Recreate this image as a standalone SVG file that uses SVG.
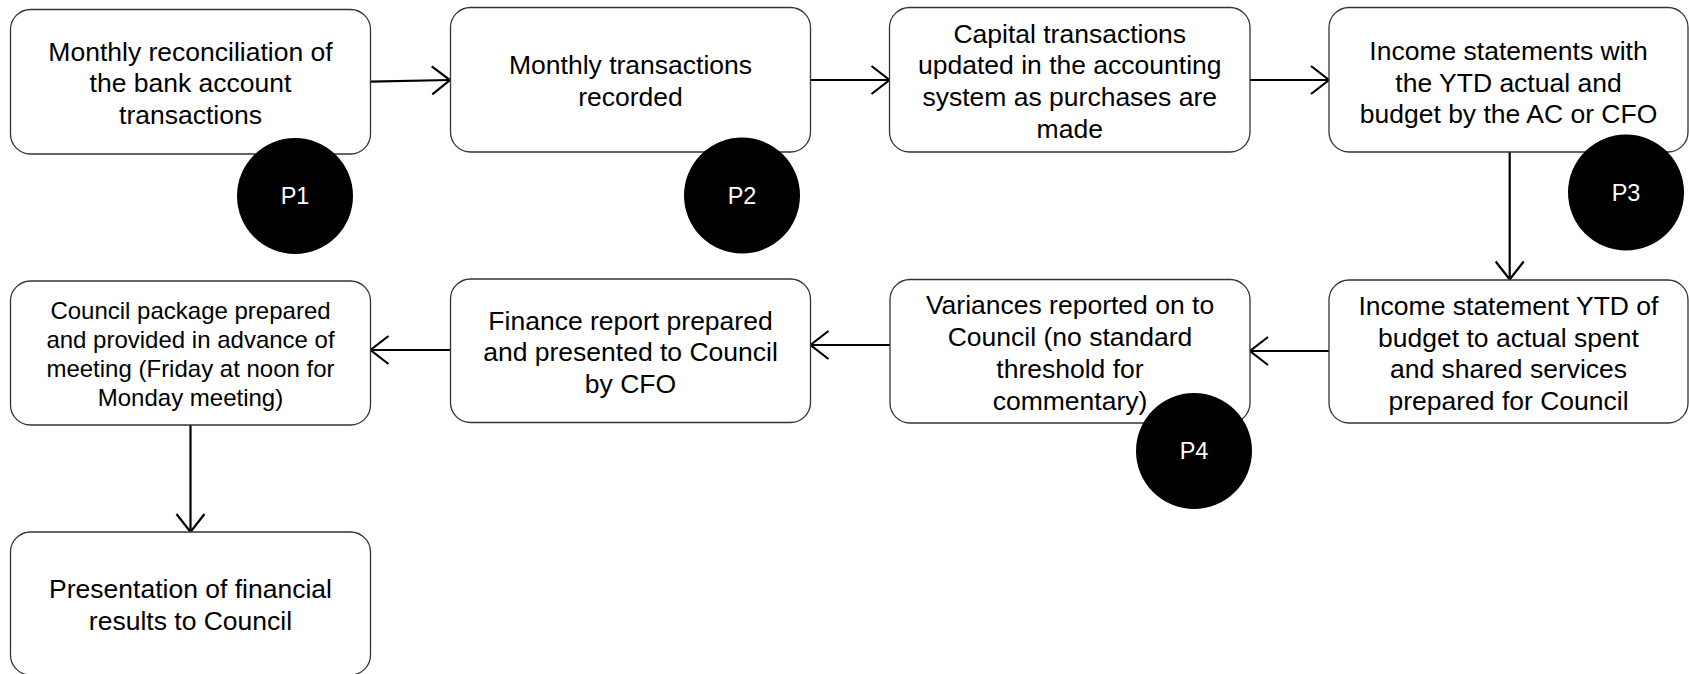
<svg xmlns="http://www.w3.org/2000/svg" width="1689" height="674" viewBox="0 0 1689 674">
<style>
.box{fill:#fff;stroke:#333;stroke-width:1.3}
.t{font-family:"Liberation Sans",Arial,sans-serif;font-size:26.5px;fill:#000;text-anchor:middle}
.ts{font-family:"Liberation Sans",Arial,sans-serif;font-size:24px;fill:#000;text-anchor:middle}
.dot{fill:#000}
.pl{font-family:"Liberation Sans",Arial,sans-serif;font-size:23.5px;fill:#fff;text-anchor:middle}
.c{fill:none;stroke:#000;stroke-width:2.2}
</style>
<defs>
<marker id="arr" markerUnits="userSpaceOnUse" markerWidth="40" markerHeight="40" refX="0" refY="0" orient="auto" overflow="visible">
<path d="M -18 -14 L 0 0 L -18 14" fill="none" stroke="#000" stroke-width="2.2"/>
</marker>
</defs>
<rect width="1689" height="674" fill="#fff"/>
<g id="connectors">
<path class="c" d="M 370.5 81.7 L 450 80" marker-end="url(#arr)"/>
<path class="c" d="M 810.5 80 L 889.5 80" marker-end="url(#arr)"/>
<path class="c" d="M 1250 80 L 1329 80" marker-end="url(#arr)"/>
<path class="c" d="M 1509.7 152 L 1509.7 279.5" marker-end="url(#arr)"/>
<path class="c" d="M 1329 351 L 1250 351" marker-end="url(#arr)"/>
<path class="c" d="M 890 345 L 810.5 345" marker-end="url(#arr)"/>
<path class="c" d="M 450.5 350 L 370.5 350" marker-end="url(#arr)"/>
<path class="c" d="M 190.5 425 L 190.5 532" marker-end="url(#arr)"/>
</g>
<g id="n1">
<rect class="box" x="10.5" y="9.5" width="360" height="144.5" rx="20"/>
<text class="t" x="190.5" y="60.5">Monthly reconciliation of</text>
<text class="t" x="190.5" y="92.3">the bank account</text>
<text class="t" x="190.5" y="124.1">transactions</text>
</g>
<g id="n2">
<rect class="box" x="450.5" y="7.5" width="360" height="144.5" rx="20"/>
<text class="t" x="630.5" y="74.4">Monthly transactions</text>
<text class="t" x="630.5" y="106.2">recorded</text>
</g>
<g id="n3">
<rect class="box" x="889.5" y="7.5" width="360.5" height="144.5" rx="20"/>
<text class="t" x="1069.75" y="42.6">Capital transactions</text>
<text class="t" x="1069.75" y="74.4">updated in the accounting</text>
<text class="t" x="1069.75" y="106.2">system as purchases are</text>
<text class="t" x="1069.75" y="138">made</text>
</g>
<g id="n4">
<rect class="box" x="1329" y="7.5" width="359" height="144.5" rx="20"/>
<text class="t" x="1508.5" y="59.7">Income statements with</text>
<text class="t" x="1508.5" y="91.5">the YTD actual and</text>
<text class="t" x="1508.5" y="123.3">budget by the AC or CFO</text>
</g>
<g id="n8">
<rect class="box" x="1329" y="280" width="359" height="143" rx="20"/>
<text class="t" x="1508.5" y="314.8">Income statement YTD of</text>
<text class="t" x="1508.5" y="346.6">budget to actual spent</text>
<text class="t" x="1508.5" y="378.4">and shared services</text>
<text class="t" x="1508.5" y="410.2">prepared for Council</text>
</g>
<g id="n7">
<rect class="box" x="890" y="279.5" width="360" height="143.5" rx="20"/>
<text class="t" x="1070" y="314.1">Variances reported on to</text>
<text class="t" x="1070" y="345.9">Council (no standard</text>
<text class="t" x="1070" y="377.7">threshold for</text>
<text class="t" x="1070" y="409.5">commentary)</text>
</g>
<g id="n6">
<rect class="box" x="450.5" y="279" width="360" height="143.5" rx="20"/>
<text class="t" x="630.5" y="329.8">Finance report prepared</text>
<text class="t" x="630.5" y="361.3">and presented to Council</text>
<text class="t" x="630.5" y="392.8">by CFO</text>
</g>
<g id="n5">
<rect class="box" x="10.5" y="281" width="360" height="144" rx="20"/>
<text class="ts" x="190.5" y="319.4">Council package prepared</text>
<text class="ts" x="190.5" y="348.4">and provided in advance of</text>
<text class="ts" x="190.5" y="377.4">meeting (Friday at noon for</text>
<text class="ts" x="190.5" y="406.4">Monday meeting)</text>
</g>
<g id="n9">
<rect class="box" x="10.5" y="532" width="360" height="143" rx="20"/>
<text class="t" x="190.5" y="598.3">Presentation of financial</text>
<text class="t" x="190.5" y="630.3">results to Council</text>
</g>
<g id="p1">
<circle class="dot" cx="295" cy="196" r="58"/>
<text class="pl" x="295" y="204.4">P1</text>
</g>
<g id="p2">
<circle class="dot" cx="742" cy="195.5" r="58"/>
<text class="pl" x="742" y="203.9">P2</text>
</g>
<g id="p3">
<circle class="dot" cx="1626" cy="192.5" r="58"/>
<text class="pl" x="1626" y="200.9">P3</text>
</g>
<g id="p4">
<circle class="dot" cx="1194" cy="451" r="58"/>
<text class="pl" x="1194" y="459.4">P4</text>
</g>
</svg>
